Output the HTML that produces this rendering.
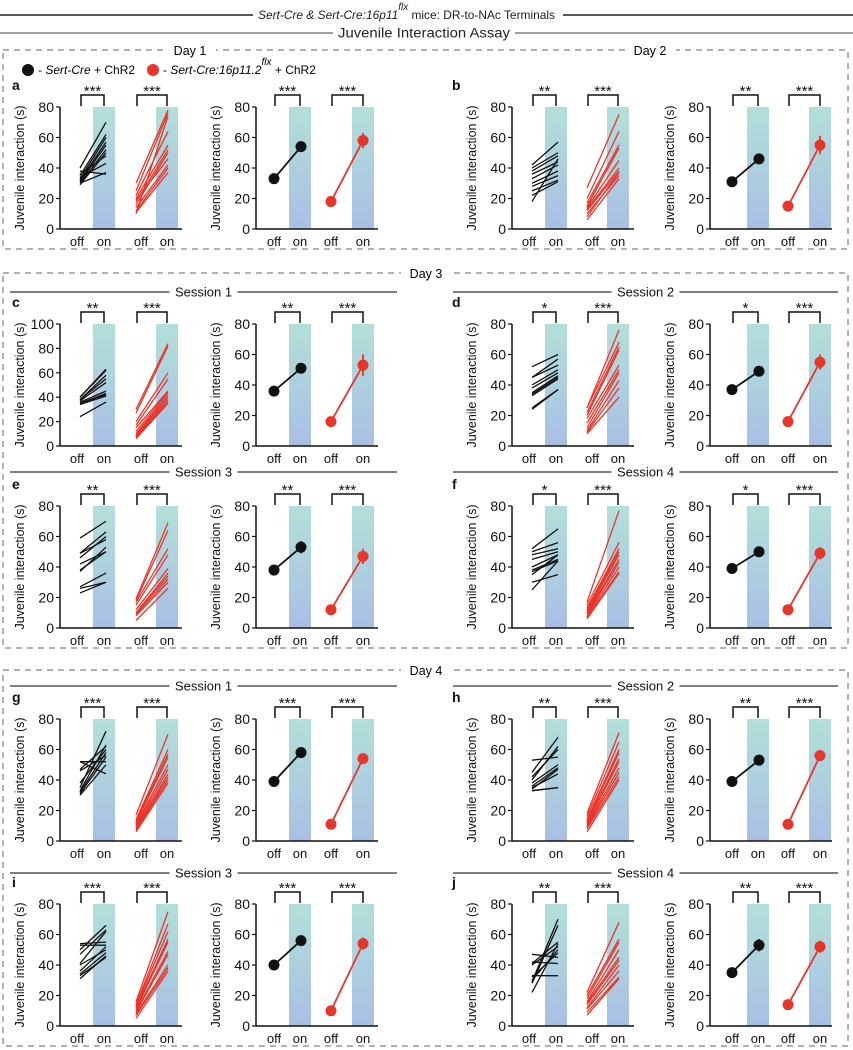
<!DOCTYPE html>
<html><head><meta charset="utf-8">
<style>
html,body{margin:0;padding:0;background:#fff;}
svg{display:block;font-family:"Liberation Sans",Arial,sans-serif;}
</style></head>
<body>
<svg id="fig" width="853" height="1050" viewBox="0 0 853 1050">
<defs>
<linearGradient id="bg" x1="0" y1="0" x2="0" y2="1">
<stop offset="0" stop-color="#b2e0d9"/><stop offset="1" stop-color="#a9bfe4"/>
</linearGradient>
</defs>
<!-- header -->
<g>
<line x1="0" y1="15" x2="253" y2="15" stroke="#222" stroke-width="1.5"/>
<line x1="563" y1="15" x2="853" y2="15" stroke="#222" stroke-width="1.5"/>
<text x="258" y="19" font-size="12" fill="#222" textLength="297" lengthAdjust="spacingAndGlyphs"><tspan font-style="italic">Sert-Cre &amp; Sert-Cre:16p11</tspan><tspan font-style="italic" font-size="10" dy="-9">flx</tspan><tspan dy="9"> mice: DR-to-NAc Terminals</tspan></text>
<line x1="0" y1="33" x2="333" y2="33" stroke="#444" stroke-width="1"/>
<line x1="515" y1="33" x2="853" y2="33" stroke="#444" stroke-width="1"/>
<text x="338" y="37.5" font-size="13.5" fill="#222" textLength="172" lengthAdjust="spacingAndGlyphs">Juvenile Interaction Assay</text>
</g>
<!-- boxes -->
<rect x="3" y="50" width="845" height="199" fill="none" stroke="#666" stroke-dasharray="6,5"/>
<rect x="3" y="273" width="845" height="375" fill="none" stroke="#666" stroke-dasharray="6,5"/>
<rect x="3" y="670" width="845" height="376" fill="none" stroke="#666" stroke-dasharray="6,5"/>
<rect x="166" y="44" width="50" height="14" fill="#fff"/><text x="190" y="55" font-size="12.5" text-anchor="middle">Day 1</text>
<rect x="626" y="44" width="50" height="14" fill="#fff"/><text x="650" y="55" font-size="12.5" text-anchor="middle">Day 2</text>
<rect x="401" y="267" width="50" height="14" fill="#fff"/><text x="426" y="278" font-size="12.5" text-anchor="middle">Day 3</text>
<rect x="401" y="664" width="50" height="14" fill="#fff"/><text x="426" y="675" font-size="12.5" text-anchor="middle">Day 4</text>
<!-- legend -->
<g>
<circle cx="28" cy="70" r="6" fill="#111"/>
<text x="38" y="74" font-size="12">- <tspan font-style="italic">Sert-Cre</tspan> + ChR2</text>
<circle cx="153" cy="70" r="6" fill="#e8352a"/>
<text x="163" y="74" font-size="12">- <tspan font-style="italic">Sert-Cre:16p11.2</tspan><tspan font-style="italic" font-size="10" dy="-9">flx</tspan><tspan dy="9"> + ChR2</tspan></text>
</g>
<g id="sessions"></g>
<g id="panels"></g>
</svg>
<script>
// ---- data ----
const panelIds = ['a','b','c','d','e','f','g','h','i','j'];
const yMaxes = [80,80,100,80,80,80,80,80,80,80];
const sigBlack = ['***','**','**','*','**','*','***','**','***','**'];
const sigRed = ['***','***','***','***','***','***','***','***','***','***'];
const blackOff = [
 [40,35,33,32,31,30,29,36,34,30,38],
 [42,40,38,36,33,30,28,25,22,18],
 [40,40,38,38,37,36,35,35,34,24],
 [52,45,45,40,38,35,34,33,25,24],
 [59,49,49,46,42,38,37,27,26,23],
 [52,50,48,45,40,38,37,35,30,25],
 [52,52,47,46,38,35,33,32,31,30],
 [53,45,42,40,38,36,35,34,33,33],
 [54,53,50,47,41,40,36,34,33,31],
 [47,42,41,40,33,32,30,29,28,22]];
const blackOn = [
 [70,62,60,57,55,52,50,48,43,37,36],
 [57,50,48,44,42,38,35,32,31,46],
 [63,62,58,55,52,45,43,42,41,36],
 [60,57,53,50,48,46,45,44,37,37],
 [70,63,58,60,50,50,53,36,30,30],
 [65,56,52,50,48,45,44,48,35,44],
 [44,52,62,56,60,72,63,58,55,50],
 [55,68,60,62,50,48,44,47,35,35],
 [55,53,66,63,62,50,52,48,45,46],
 [45,41,55,52,33,48,50,70,66,54]];
const redOff = [
 [30,25,22,20,18,16,14,12,11,10,19],
 [27,20,17,15,14,13,12,10,8,6],
 [30,27,20,17,15,12,10,9,8,7,6],
 [25,25,22,20,18,15,12,10,9,8],
 [19,18,17,15,12,10,10,9,8,5],
 [17,15,13,12,11,10,9,8,7,6],
 [17,14,13,12,11,10,9,8,7,6],
 [18,16,14,13,12,11,10,9,8,6],
 [16,14,13,12,11,10,9,8,7,5],
 [22,20,18,16,15,14,12,11,9,7]];
const redOn = [
 [78,76,64,55,52,50,42,40,37,74,46],
 [75,64,55,53,45,40,38,35,37,33],
 [84,82,60,55,45,44,42,40,38,36,35],
 [76,68,65,63,53,50,48,43,38,32],
 [69,64,52,48,39,36,34,32,30,26],
 [77,56,52,50,48,45,43,40,37,36],
 [70,60,57,55,50,47,44,42,40,38],
 [71,65,60,58,54,52,48,45,42,40],
 [75,67,62,57,55,49,47,40,38,36],
 [68,57,55,50,45,43,40,36,32,31]];
const meanBlack = [[33,54],[31,46],[36,51],[37,49],[38,53],[39,50],[39,58],[39,53],[40,56],[35,53]];
const meanRed = [[18,58],[15,55],[16,53],[16,55],[12,47],[12,49],[11,54],[11,56],[10,54],[14,52]];
const errBlack = [[1.5,3],[1.5,2],[1.5,3],[2,2],[3,4],[1.5,2],[1.5,2],[1.5,3],[1.5,2],[1.5,4]];
const errRed = [[1.5,5],[1.5,6],[1.5,7],[1.5,5],[1.5,5],[1.5,4],[1.5,3],[1.5,3],[1.5,4],[1.5,4]];
const tickVals = [0,20,40,60,80,100];

// ---- layout ----
const NS='http://www.w3.org/2000/svg';
const root=document.getElementById('panels');
const rowsY=[[107,229],[324,446],[506,628],[719,841],[904,1026]];
const cols=[
 {L:60,Lb1:93,Lb2:156,Lend:182,R:256,Rb1:289,Rb2:352,Rend:378,letter:12},
 {L:512,Lb1:545,Lb2:607,Lend:634,R:710,Rb1:747,Rb2:809,Rend:832,letter:452}];
function mk(tag,attrs,parent){const e=document.createElementNS(NS,tag);for(const k in attrs)e.setAttribute(k,attrs[k]);(parent||root).appendChild(e);return e;}
function txt(x,y,s,size,anchor,parent){const t=mk('text',{x:x,y:y,'font-size':size,'text-anchor':anchor||'start',fill:'#111'},parent);t.textContent=s;return t;}

function axes(g,ax,axEnd,yTop,yBot,ymax,name){
 const ys=v=>yBot-v/ymax*(yBot-yTop);
 const a=mk('line',{x1:ax,y1:yTop,x2:ax,y2:yBot,stroke:'#111','stroke-width':1.5},g);
 
 
 const b=mk('line',{x1:ax,y1:yBot,x2:axEnd,y2:yBot,stroke:'#111','stroke-width':1.5},g);
 
 
 tickVals.filter(v=>v<=ymax).forEach(v=>{
  mk('line',{x1:ax-4,y1:ys(v),x2:ax,y2:ys(v),stroke:'#111','stroke-width':1.2},g);
  const t=txt(ax-6,ys(v)+5,String(v),14,'end',g);
  
  
 });
 const yl=txt(0,0,'Juvenile interaction (s)',12.5,'middle',g);
 yl.setAttribute('transform','translate('+(ax-36)+','+((yTop+yBot)/2)+') rotate(-90)');
 
 
 return ys;
}
function bar(g,x,yTop,yBot,ys,ymax,name){
 const r=mk('rect',{x:x,y:ys(ymax),width:22,height:yBot-ys(ymax),fill:'url(#bg)'},g);
 
 
}
function bracket(g,x1,x2,yTop,s){
 const yb=yTop-12;
 const p=mk('path',{d:'M'+x1+' '+(yTop-1)+'V'+yb+'H'+x2+'V'+(yTop-1),fill:'none',stroke:'#111','stroke-width':1.5},g);
 
 
 const t=txt((x1+x2)/2,yb+1,s,15,'middle',g);
 
 
}
function xlabels(g,o1,n1,o2,n2,yBot){
 [[o1,'off'],[n1,'on'],[o2,'off'],[n2,'on']].forEach(([x,s])=>{
  const t=txt(x,yBot+17,s,13,'middle',g);
  
  
 });
}

panelIds.forEach((id,i)=>{
 const c=cols[i%2], [yTop,yBot]=rowsY[Math.floor(i/2)], ymax=yMaxes[i];
 const g=mk('g',{});
 
 
 const lt=mk('text',{x:c.letter,y:yTop-17,'font-size':14,'font-weight':'bold',fill:'#111'},g);
 lt.textContent=id;
 
 
 const gl=mk('g',{},g);
 
 
 const axL = c.L;
 const ysL=v=>yBot-v/ymax*(yBot-yTop);
 bar(gl,c.Lb1,yTop,yBot,ysL,ymax,'light-on-bar-black');
 bar(gl,c.Lb2,yTop,yBot,ysL,ymax,'light-on-bar-red');
 axes(gl,axL,c.Lend,yTop,yBot,ymax,'individual');
 const bo=c.Lb1-13, bn=c.Lb1+13, ro=c.Lb2-20, rn=c.Lb2+12;
 blackOff[i].forEach((v,k)=>{
  const l=mk('line',{x1:bo,y1:ysL(v),x2:bn,y2:ysL(blackOn[i][k]),stroke:'#111','stroke-width':1.3},gl);
  
  
 });
 redOff[i].forEach((v,k)=>{
  const l=mk('line',{x1:ro,y1:ysL(v),x2:rn,y2:ysL(redOn[i][k]),stroke:'#e8352a','stroke-width':1.3},gl);
  
  
 });
 bracket(gl,bo+1,c.Lb1+11,yTop,sigBlack[i]);
 bracket(gl,ro+1,c.Lb2+11,yTop,sigRed[i]);
 xlabels(gl,c.Lb1-16,c.Lb1+11,c.Lb2-15,c.Lb2+11,yBot);
 const gr=mk('g',{},g);
 
 
 const ysR=v=>yBot-v/80*(yBot-yTop);
 bar(gr,c.Rb1,yTop,yBot,ysR,80,'light-on-bar-black');
 bar(gr,c.Rb2,yTop,yBot,ysR,80,'light-on-bar-red');
 axes(gr,c.R,c.Rend,yTop,yBot,80,'mean');
 const mbo=c.Rb1-15, mbn=c.Rb1+12, mro=c.Rb2-21, mrn=c.Rb2+11;
 [[meanBlack[i],errBlack[i],mbo,mbn,'#111','black'],[meanRed[i],errRed[i],mro,mrn,'#e8352a','red']].forEach(([m,e,x0,x1,col,nm])=>{
  const l=mk('line',{x1:x0,y1:ysR(m[0]),x2:x1,y2:ysR(m[1]),stroke:col,'stroke-width':1.8},gr);
  
  
  [[x0,0],[x1,1]].forEach(([x,j])=>{
   const eb=mk('line',{x1:x,y1:ysR(m[j]-e[j]),x2:x,y2:ysR(m[j]+e[j]),stroke:col,'stroke-width':1.8},gr);
   
   
   const d=mk('circle',{cx:x,cy:ysR(m[j]),r:5.5,fill:col},gr);
   
   
  });
 });
 bracket(gr,mbo+1,c.Rb1+11,yTop,sigBlack[i]);
 bracket(gr,mro+1,c.Rb2+11,yTop,sigRed[i]);
 xlabels(gr,mbo,c.Rb1+11,mro,c.Rb2+11,yBot);
});

const sess=document.getElementById('sessions');
[[292,'Session 1',0],[292,'Session 2',1],[472,'Session 3',0],[472,'Session 4',1],
 [686,'Session 1',0],[686,'Session 2',1],[873,'Session 3',0],[873,'Session 4',1]].forEach(([y,s,ci])=>{
 const x0=ci?453:10, x1=ci?838:397, cx=(x0+x1)/2;
 const l=mk('line',{x1:x0,y1:y,x2:x1,y2:y,stroke:'#333','stroke-width':1.3},sess);
 
 
 mk('rect',{x:cx-34,y:y-8,width:68,height:16,fill:'#fff'},sess);
 const t=txt(cx,y+4.5,s,13,'middle',sess);
 
 
});
</script>
</body></html>
